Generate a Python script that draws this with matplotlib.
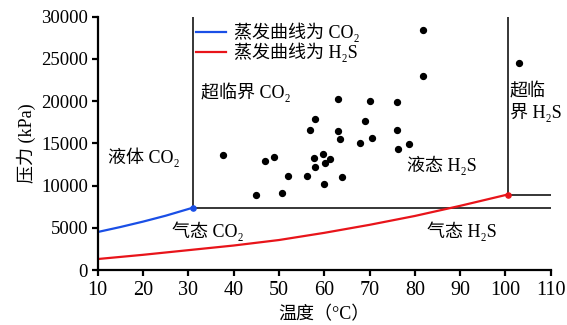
import matplotlib
matplotlib.use("Agg")
import matplotlib.pyplot as plt

plt.rcParams['font.family'] = ['Liberation Serif', 'Noto Sans CJK SC']

# curva de evaporação do CO2 (até o ponto crítico)
co2_t = [10, 15, 20, 25, 31]
co2_p = [4500, 5090, 5730, 6430, 7380]

# curva de evaporação do H2S (até o ponto crítico)
h2s_t = [10, 20, 30, 40, 50, 60, 70, 80, 90, 100.5]
h2s_p = [1300, 1800, 2350, 2900, 3550, 4400, 5350, 6400, 7600, 8940]

# pontos medidos (temperatura, pressão)
pts_t = [37.7, 47.0, 48.9, 44.9, 50.7, 52.1, 56.1, 57.8, 58.0, 59.8,
         60.1, 61.3, 60.0, 63.9, 63.5, 63.0, 67.9, 70.6, 69.1, 70.0,
         63.0, 76.1, 76.0, 76.2, 78.7, 58.0, 56.9, 81.9, 81.9, 103.0]
pts_p = [13650, 12940, 13380, 8850, 9080, 11190, 11130, 13230, 12160, 13730,
         12630, 13140, 10180, 10980, 15570, 16460, 15040, 15630, 17680, 20050,
         20210, 19890, 16580, 14290, 14880, 17880, 16580, 28450, 23030, 24470]

fig = plt.figure(figsize=(5.67, 3.25), dpi=100)
ax = fig.add_axes([0.1723, 0.1692, 0.799, 0.7794])

# linhas de fronteira
ax.plot([co2_t[-1], co2_t[-1]], [co2_p[-1], 30000], color="black", lw=1.1)
ax.plot([co2_t[-1], 110], [co2_p[-1], co2_p[-1]], color="black", lw=1.1)
ax.plot([h2s_t[-1], h2s_t[-1]], [h2s_p[-1], 30000], color="black", lw=1.1)
ax.plot([h2s_t[-1], 110], [h2s_p[-1], h2s_p[-1]], color="black", lw=1.1)

ax.plot(co2_t, co2_p, color="#1a4fe6", lw=1.6, label="蒸发曲线为 CO₂")
ax.plot(h2s_t, h2s_p, color="#e8141a", lw=1.6, label="蒸发曲线为 H₂S")
ax.scatter([co2_t[-1]], [co2_p[-1]], s=14, color="#1a4fe6", zorder=5)
ax.scatter([h2s_t[-1]], [h2s_p[-1]], s=14, color="#e8141a", zorder=5)

ax.scatter(pts_t, pts_p, s=18, color="black", zorder=4)

fs = 13
ax.text(12.3, 13380, "液体 CO₂", fontsize=fs, va="center")
ax.text(32.9, 21110, "超临界 CO₂", fontsize=fs, va="center")
ax.text(78.2, 12430, "液态 H₂S", fontsize=fs, va="center")
ax.text(26.3, 4650, "气态 CO₂", fontsize=fs, va="center")
ax.text(82.6, 4540, "气态 H₂S", fontsize=fs, va="center")
ax.text(101.0, 19810, "超临\n界 H₂S", fontsize=fs, va="center", linespacing=1.15)

ax.legend(loc="upper left", bbox_to_anchor=(0.19, 1.025), frameon=False,
          fontsize=fs, handlelength=1.65, handletextpad=0.45,
          labelspacing=0.0, borderpad=0.2)

ax.set_xlim(10, 110)
ax.set_ylim(0, 30000)
ax.set_xticks(range(10, 111, 10))
ax.set_yticks(range(0, 30001, 5000))
ax.spines["top"].set_visible(False)
ax.spines["right"].set_visible(False)
ax.spines["left"].set_linewidth(1.6)
ax.spines["bottom"].set_linewidth(1.6)
ax.tick_params(direction="out", length=4, width=1.6, pad=3)
ax.tick_params(axis="x", labelsize=14.5, pad=4)
ax.tick_params(axis="y", labelsize=13.5)

ax.set_xlabel("温度（°C）", fontsize=fs, labelpad=4)
ax.set_ylabel("压力 (kPa)", fontsize=fs, labelpad=4)

fig.savefig("out.png", dpi=100)
plt.close(fig)
